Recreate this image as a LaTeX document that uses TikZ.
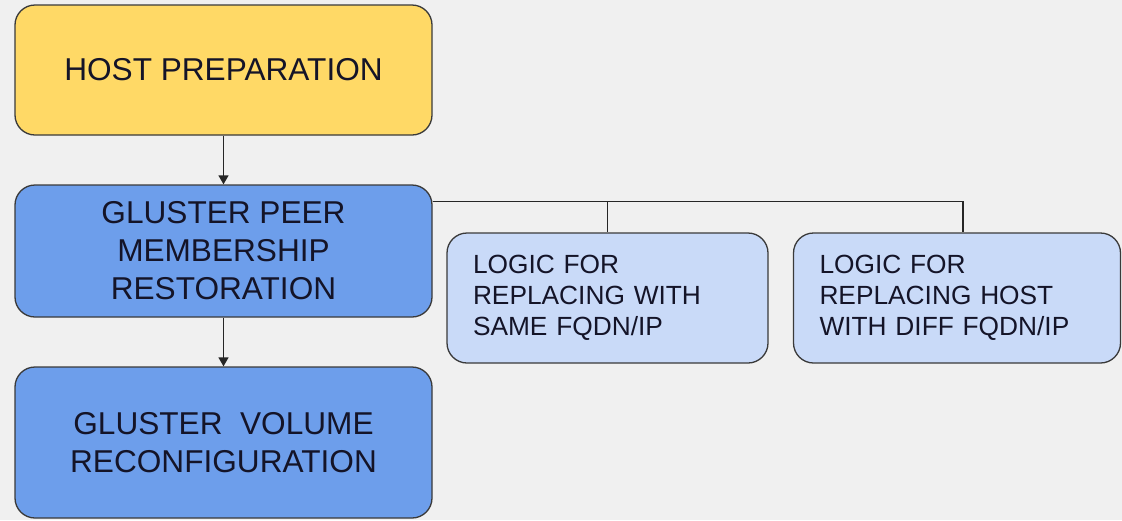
\documentclass[tikz,border=0pt]{standalone}
\usepackage{fontspec}
\setmainfont{Liberation Sans}
\usetikzlibrary{arrows.meta}
\definecolor{bg}{HTML}{F0F0F0}
\definecolor{hostyellow}{HTML}{FFD966}
\definecolor{glblue}{HTML}{6D9EEB}
\definecolor{logicblue}{HTML}{C9DAF8}
\definecolor{edgegray}{HTML}{3A3A3A}
\definecolor{txt}{HTML}{141428}
\tikzset{
  bigbox/.style={draw=edgegray, line width=1.3pt, rounded corners=20pt,
    minimum width=417pt, inner sep=0pt, align=center, text=txt,
    font=\fontsize{31.6}{38}\selectfont},
  logicbox/.style={draw=edgegray, line width=1.3pt, rounded corners=20pt,
    fill=logicblue, minimum height=130pt, inner xsep=26pt, inner ysep=0pt,
    align=left, text=txt, font=\fontsize{26.3}{31}\selectfont},
  conn/.style={draw=black!85, line width=1.3pt},
  arr/.style={conn, -{Triangle[length=9pt,width=10pt]}}
}
\begin{document}
\begin{tikzpicture}[x=1pt,y=-1pt]
\fill[bg] (0,0) rectangle (1122,520);
\useasboundingbox (0,0) rectangle (1122,520);
\node[bigbox, fill=hostyellow, minimum height=130pt] (host) at (223.5,70) {HOST PREPARATION};
\node[bigbox, fill=glblue, minimum height=132pt] (peer) at (223.5,251) {GLUSTER PEER\\MEMBERSHIP\\RESTORATION};
\node[bigbox, fill=glblue, minimum height=151pt] (vol) at (223.5,442.5) {GLUSTER\ \ VOLUME\\RECONFIGURATION};
\node[logicbox, text width=269pt] (l1) at (607.5,298) {LOGIC FOR\\REPLACING WITH\\SAME FQDN/IP};
\node[logicbox, text width=275pt] (l2) at (957,298) {LOGIC FOR\\REPLACING HOST\\WITH DIFF FQDN/IP};
\draw[arr] (host.south) -- (peer.north);
\draw[arr] (peer.south) -- (vol.north);
\coordinate (br) at ([yshift=-17pt]peer.north east);
\coordinate (l2top) at ([xshift=6pt]l2.north);
\draw[conn] (br) -| (l2top);
\draw[conn] (br) -| (l1.north);
\end{tikzpicture}
\end{document}
